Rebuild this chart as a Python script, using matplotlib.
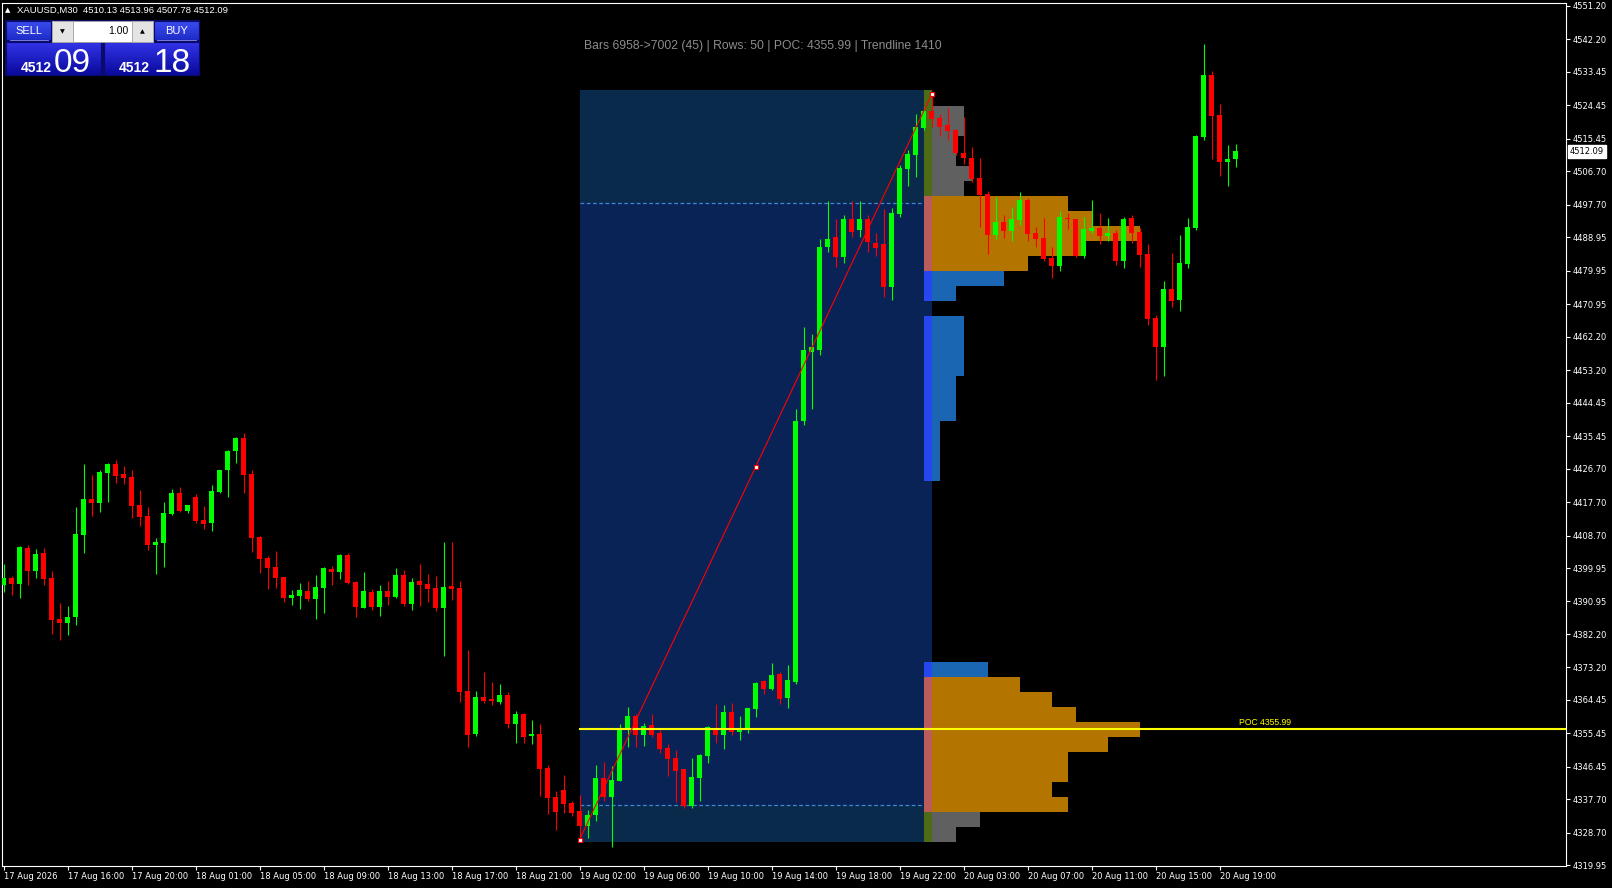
import numpy as np
import matplotlib
matplotlib.use('Agg')
import matplotlib.pyplot as plt
from matplotlib.patches import Rectangle
from matplotlib.transforms import blended_transform_factory, ScaledTranslation

plt.rcParams['font.family'] = ['DejaVu Sans']

# XAUUSD M30 candles, bar 0 = 17 Aug 12:00
opens = [4395.4, 4397.2, 4395.6, 4405.3, 4399.2, 4404.0, 4397.2, 4386.2, 4385.2, 4386.8,
         4408.9, 4418.5, 4417.4, 4425.6, 4427.9, 4425.2, 4424.4, 4416.9, 4413.9, 4406.1,
         4406.7, 4414.5, 4420.1, 4415.3, 4419.0, 4412.9, 4412.1, 4420.4, 4426.3, 4431.4,
         4434.9, 4425.2, 4408.3, 4402.6, 4400.2, 4397.5, 4392.0, 4392.4, 4393.8, 4391.6,
         4394.6, 4399.7, 4398.9, 4403.5, 4396.2, 4389.2, 4393.5, 4389.5, 4393.8, 4392.1,
         4398.1, 4390.3, 4396.5, 4395.6, 4394.6, 4389.2, 4395.1, 4394.6, 4366.9, 4355.3,
         4365.2, 4364.7, 4363.9, 4365.8, 4358.0, 4360.7, 4354.7, 4355.3, 4346.1, 4338.3,
         4340.2, 4336.7, 4334.6, 4330.6, 4333.5, 4343.5, 4338.4, 4342.7, 4356.5, 4360.1,
         4355.0, 4357.7, 4355.6, 4351.5, 4348.8, 4345.9, 4335.9, 4343.5, 4349.4, 4356.9,
         4355.0, 4361.2, 4355.8, 4356.6, 4362.0, 4369.5, 4367.4, 4371.4, 4365.0, 4369.4,
         4439.4, 4458.0, 4458.7, 4486.4, 4489.0, 4483.6, 4493.9, 4491.0, 4494.0, 4487.5,
         4487.1, 4475.7, 4495.3, 4507.2, 4511.1, 4518.4, 4522.9, 4521.1, 4519.2, 4517.8,
         4511.6, 4510.3, 4504.9, 4500.6, 4489.6, 4493.1, 4490.7, 4493.6, 4499.0, 4490.1,
         4488.8, 4483.4, 4481.2, 4494.1, 4493.9, 4483.9, 4490.6, 4491.5, 4489.3, 4490.1,
         4482.6, 4494.1, 4490.4, 4484.5, 4467.2, 4459.4, 4475.0, 4472.1, 4481.8, 4491.5,
         4515.9, 4532.6, 4521.9, 4509.2, 4510.13]
highs = [4401.0, 4397.8, 4405.8, 4406.1, 4405.0, 4405.3, 4399.1, 4390.5, 4389.7, 4416.4,
         4427.9, 4425.0, 4426.3, 4428.2, 4429.0, 4427.4, 4426.3, 4420.9, 4416.4, 4408.0,
         4417.7, 4421.2, 4421.7, 4416.9, 4419.8, 4416.6, 4422.3, 4426.3, 4431.7, 4435.2,
         4436.3, 4426.3, 4408.6, 4403.2, 4404.5, 4397.5, 4394.0, 4395.9, 4396.5, 4398.1,
         4400.2, 4400.5, 4403.7, 4404.0, 4396.5, 4398.9, 4394.3, 4395.4, 4396.5, 4400.0,
         4399.4, 4397.3, 4401.0, 4398.3, 4397.8, 4406.9, 4406.9, 4396.5, 4377.9, 4366.9,
         4372.0, 4369.3, 4368.7, 4366.6, 4361.5, 4360.9, 4359.1, 4358.0, 4346.9, 4339.9,
         4344.2, 4337.2, 4338.9, 4334.8, 4346.9, 4347.8, 4346.7, 4358.0, 4362.6, 4360.7,
         4358.2, 4360.7, 4356.6, 4352.6, 4351.0, 4345.9, 4348.8, 4349.9, 4357.4, 4363.4,
         4363.1, 4363.6, 4360.1, 4362.3, 4369.3, 4369.8, 4374.4, 4372.0, 4373.9, 4442.7,
         4464.8, 4463.0, 4488.6, 4498.6, 4494.0, 4495.0, 4498.8, 4498.6, 4495.0, 4490.0,
         4496.6, 4496.8, 4508.4, 4512.4, 4522.1, 4524.0, 4527.4, 4522.1, 4523.7, 4518.1,
         4521.3, 4513.2, 4510.3, 4501.4, 4499.8, 4494.9, 4497.1, 4501.1, 4499.5, 4491.7,
         4494.1, 4486.3, 4496.0, 4495.5, 4494.0, 4494.4, 4499.0, 4495.5, 4494.1, 4490.9,
         4494.4, 4495.0, 4491.5, 4487.2, 4468.0, 4477.2, 4484.7, 4489.6, 4494.2, 4516.5,
         4541.0, 4533.7, 4524.8, 4513.8, 4513.96]
lows = [4393.6, 4392.7, 4392.0, 4395.4, 4397.3, 4395.4, 4382.2, 4380.6, 4382.0, 4384.6,
        4404.1, 4414.0, 4415.1, 4417.8, 4422.9, 4422.5, 4413.4, 4411.2, 4404.8, 4398.3,
        4400.2, 4414.2, 4415.0, 4414.8, 4412.1, 4410.4, 4409.9, 4420.1, 4419.0, 4428.2,
        4420.1, 4404.3, 4398.6, 4394.3, 4394.5, 4390.8, 4390.0, 4388.9, 4391.1, 4386.2,
        4387.8, 4395.4, 4397.0, 4395.6, 4386.8, 4389.2, 4388.6, 4387.0, 4390.0, 4391.9,
        4389.7, 4388.6, 4389.7, 4390.8, 4388.4, 4376.3, 4391.3, 4363.9, 4351.8, 4354.8,
        4363.6, 4363.1, 4363.4, 4356.9, 4352.9, 4352.9, 4352.6, 4338.6, 4333.8, 4329.5,
        4334.0, 4333.2, 4326.9, 4327.4, 4331.9, 4337.3, 4325.0, 4342.7, 4351.9, 4351.9,
        4352.1, 4354.5, 4350.2, 4344.0, 4337.0, 4335.4, 4335.4, 4337.3, 4347.5, 4352.9,
        4351.2, 4355.0, 4353.7, 4355.6, 4359.9, 4366.0, 4367.0, 4363.4, 4362.3, 4368.8,
        4438.5, 4442.7, 4457.3, 4485.0, 4481.0, 4482.0, 4489.0, 4489.0, 4485.0, 4484.0,
        4473.0, 4472.1, 4494.4, 4502.8, 4505.2, 4517.8, 4518.6, 4516.2, 4515.1, 4511.1,
        4508.7, 4503.8, 4491.7, 4484.5, 4488.5, 4488.8, 4488.0, 4492.3, 4488.0, 4486.3,
        4482.5, 4478.0, 4479.9, 4491.2, 4483.6, 4483.4, 4490.1, 4487.2, 4488.0, 4481.5,
        4480.7, 4487.4, 4481.0, 4465.4, 4450.5, 4451.5, 4470.2, 4469.1, 4480.7, 4491.0,
        4515.1, 4510.0, 4505.4, 4502.8, 4507.78]
closes = [4397.3, 4395.6, 4405.6, 4399.2, 4403.7, 4397.1, 4386.0, 4385.2, 4386.8, 4409.1,
          4418.5, 4417.4, 4425.8, 4427.9, 4424.8, 4424.3, 4416.6, 4413.7, 4406.1, 4406.9,
          4414.7, 4420.1, 4415.3, 4416.9, 4412.6, 4411.8, 4420.7, 4426.3, 4431.4, 4434.9,
          4425.0, 4408.0, 4402.4, 4399.9, 4397.2, 4391.9, 4392.7, 4394.0, 4391.6, 4394.8,
          4399.9, 4398.9, 4403.5, 4395.9, 4389.5, 4393.8, 4389.5, 4393.8, 4392.1, 4398.1,
          4390.3, 4396.2, 4395.4, 4394.3, 4389.2, 4394.8, 4394.3, 4366.6, 4355.0, 4365.2,
          4364.2, 4364.2, 4365.8, 4358.0, 4360.7, 4354.5, 4355.3, 4345.9, 4338.1, 4334.3,
          4336.4, 4334.0, 4330.5, 4333.5, 4343.5, 4338.4, 4342.9, 4356.9, 4360.1, 4355.0,
          4357.4, 4355.0, 4351.3, 4348.6, 4345.3, 4335.9, 4343.7, 4349.6, 4357.2, 4355.0,
          4361.2, 4355.8, 4356.9, 4362.3, 4369.0, 4367.4, 4371.2, 4364.7, 4369.8, 4439.4,
          4458.7, 4459.5, 4486.4, 4488.5, 4483.6, 4493.9, 4490.5, 4493.9, 4487.8, 4486.1,
          4475.5, 4495.5, 4507.6, 4511.4, 4518.6, 4522.9, 4520.8, 4518.6, 4517.6, 4511.6,
          4510.3, 4504.6, 4500.3, 4489.6, 4493.1, 4490.7, 4493.9, 4499.0, 4489.8, 4488.5,
          4483.1, 4481.2, 4494.4, 4493.9, 4483.9, 4491.2, 4491.5, 4489.3, 4490.1, 4482.6,
          4493.9, 4490.1, 4484.2, 4467.0, 4459.4, 4475.0, 4471.8, 4482.0, 4491.7, 4516.2,
          4532.6, 4521.6, 4509.2, 4510.0, 4512.09]

tick_bars = list(range(0, 153, 8))
tick_labels = ['17 Aug 2026', '17 Aug 16:00', '17 Aug 20:00', '18 Aug 01:00', '18 Aug 05:00',
               '18 Aug 09:00', '18 Aug 13:00', '18 Aug 17:00', '18 Aug 21:00', '19 Aug 02:00',
               '19 Aug 06:00', '19 Aug 10:00', '19 Aug 14:00', '19 Aug 18:00', '19 Aug 22:00',
               '20 Aug 03:00', '20 Aug 07:00', '20 Aug 11:00', '20 Aug 15:00', '20 Aug 19:00']
price_ticks = [4551.20, 4542.20, 4533.45, 4524.45, 4515.45, 4506.70, 4497.70, 4488.95,
               4479.95, 4470.95, 4462.20, 4453.20, 4444.45, 4435.45, 4426.70, 4417.70,
               4408.70, 4399.95, 4390.95, 4382.20, 4373.20, 4364.45, 4355.45, 4346.45,
               4337.70, 4328.70, 4319.95]

# volume profile on bars 72..116, 50 rows from range_low to range_high
range_start, range_end = 72, 116
range_low, range_high = 4326.23, 4528.46
va_low, va_high = 4336.2, 4498.2
poc_row = 7
# row length in bars, bottom row first
profile_len = [3, 6, 17, 15, 17, 17, 22, 26, 18, 15,
               11, 7, 0, 0, 0, 0, 0, 0, 0, 0,
               0, 0, 0, 0, 1, 1, 1, 1, 3, 3,
               3, 4, 4, 4, 4, 0, 3, 9, 12, 19,
               26, 20, 17, 4, 5, 3, 3, 4, 4, 0]
# g = outside value area, o = high volume, b = low volume, n = empty
profile_kind = ['g', 'g', 'o', 'o', 'o', 'o', 'o', 'o', 'o', 'o',
                'o', 'b', 'n', 'n', 'n', 'n', 'n', 'n', 'n', 'n',
                'n', 'n', 'n', 'n', 'b', 'b', 'b', 'b', 'b', 'b',
                'b', 'b', 'b', 'b', 'b', 'n', 'b', 'b', 'o', 'o',
                'o', 'o', 'o', 'g', 'g', 'g', 'g', 'g', 'g', 'g']
bar_colour = {'g': '#606060', 'o': '#b37400', 'b': '#1a66b3'}
col_colour = {'g': '#4e6b17', 'o': '#bb5c5c', 'b': '#2646f0'}

trend_start = (72, 4326.9)
trend_end = (116, 4527.4)

title = 'Bars 6958->7002 (45) | Rows: 50 | POC: 4355.99 | Trendline 1410'
poc_label = 'POC 4355.99'

W, H = 1612, 888
fig = plt.figure(figsize=(W/100, H/100), dpi=100, facecolor='black')
ax = fig.add_axes([2/W, 22/H, 1564/W, 863/H], facecolor='black')
ax.set_xlim(-0.2, 195.3)
ax.set_ylim(4319.77, 4552.0)

# range box
ax.add_patch(Rectangle((range_start, range_low), range_end - range_start, range_high - range_low,
                       facecolor='#0a2a4c', edgecolor='none', zorder=1))
ax.add_patch(Rectangle((range_start, va_low), range_end - range_start, va_high - va_low,
                       facecolor='#0a2356', edgecolor='none', zorder=1.1))
for lvl in (va_low, va_high):
    ax.plot([range_start, range_end], [lvl, lvl], color='#3d86d8', lw=0.9,
            ls=(0, (3, 2)), zorder=1.5)

# profile rows
row_h = (range_high - range_low)/len(profile_len)
for k, (n, kind) in enumerate(zip(profile_len, profile_kind)):
    if kind == 'n':
        continue
    y0 = range_low + k*row_h
    if n > 0:
        ax.add_patch(Rectangle((range_end, y0), n, row_h, facecolor=bar_colour[kind],
                               edgecolor='none', zorder=2))
    ax.add_patch(Rectangle((range_end - 1, y0), 1, row_h, facecolor=col_colour[kind],
                           edgecolor='none', zorder=2))

# candles
x = np.arange(len(opens))
o = np.array(opens)
c = np.array(closes)
colours = np.where(c >= o, '#00ff00', '#ff0000')
ax.vlines(x, lows, highs, colors=colours, lw=0.8, zorder=4)
body = np.maximum(np.abs(c - o), 0.35)
ax.bar(x, body, bottom=np.minimum(o, c), width=0.6, color=colours, linewidth=0, zorder=4)

# POC line
poc = range_low + (poc_row + 0.5)*row_h
ax.plot([range_start, 195.3], [poc, poc], color='#ffff00', lw=1.5, zorder=5)
ax.text(154.4, poc + 0.6, poc_label, color='#ffff00', fontsize=6.2, family='Liberation Sans',
        ha='left', va='bottom', zorder=5)

# trendline
mid = ((trend_start[0] + trend_end[0])/2, (trend_start[1] + trend_end[1])/2)
ax.plot([trend_start[0], trend_end[0]], [trend_start[1], trend_end[1]], color='#ff0000',
        lw=0.8, zorder=6)
ax.plot([trend_start[0], mid[0], trend_end[0]], [trend_start[1], mid[1], trend_end[1]],
        ls='none', marker='s', ms=3.5, mfc='white', mec='#ff0000', mew=0.8, zorder=7)

ax.text(94.9, 4540.4, title, color='#8c8c8c', fontsize=8.7, family='Liberation Sans',
        ha='center', va='center', zorder=6)

# axes look
for s in ax.spines.values():
    s.set_color('white')
    s.set_linewidth(0.8)
ax.yaxis.tick_right()
ax.set_yticks(price_ticks)
ax.set_yticklabels([f'{p:.2f}' for p in price_ticks])
ax.set_xticks(tick_bars)
ax.set_xticklabels(tick_labels, ha='left')
ax.tick_params(colors='white', labelsize=6, length=3, width=0.8, pad=1.5)
offset = ScaledTranslation(0.6/72, 0, fig.dpi_scale_trans)
for lab in ax.get_xticklabels():
    lab.set_transform(lab.get_transform() + offset)

# current price label
tr = blended_transform_factory(ax.transAxes, ax.transData)
ax.text(1.0025, closes[-1], f'{closes[-1]:.2f}', transform=tr, fontsize=6, color='black',
        ha='left', va='center', zorder=8,
        bbox=dict(boxstyle='square,pad=0.25', fc='white', ec='white'))

# header and trade panel, in figure pixels
ui = fig.add_axes([0, 0, 1, 1], facecolor='none')
ui.set_xlim(0, W)
ui.set_ylim(H, 0)
ui.axis('off')


def grad_box(x0, y0, x1, y1, top, bottom):
    t = np.array(matplotlib.colors.to_rgb(top))
    b = np.array(matplotlib.colors.to_rgb(bottom))
    f = np.linspace(0, 1, 32)[:, None]
    img = (t*(1 - f) + b*f)[:, None, :]
    ui.imshow(img, extent=(x0, x1, y1, y0), aspect='auto', interpolation='bilinear', zorder=2)
    ui.add_patch(Rectangle((x0, y0), x1 - x0, y1 - y0, fill=False, ec='#0a0a70', lw=0.8,
                           zorder=3))


ui.text(8, 10, '\u25b2', color='white', fontsize=5, ha='center', va='center')
ui.text(17, 10, 'XAUUSD,M30  4510.13 4513.96 4507.78 4512.09', color='white',
        fontsize=6.8, ha='left', va='center', family='Liberation Sans')

ui.add_patch(Rectangle((5, 20), 195, 56, facecolor='#0c0c6a', edgecolor='none', zorder=1))
grad_box(6, 21, 51, 40, '#3b4cf0', '#1e2cc8')
grad_box(154, 21, 199, 40, '#3b4cf0', '#1e2cc8')
grad_box(6, 42, 101, 75, '#3234e8', '#0a0a9c')
grad_box(104, 42, 199, 75, '#3234e8', '#0a0a9c')
ui.add_patch(Rectangle((52, 21), 101, 21, facecolor='white', edgecolor='#a0a0a0', lw=0.6, zorder=3))
ui.add_patch(Rectangle((52, 21), 21, 21, facecolor='#e4e4e4', edgecolor='#a0a0a0', lw=0.6, zorder=3))
ui.add_patch(Rectangle((132, 21), 21, 21, facecolor='#e4e4e4', edgecolor='#a0a0a0', lw=0.6, zorder=3))
ui.text(62.5, 31.5, '\u25bc', fontsize=4.5, ha='center', va='center', color='black', zorder=4)
ui.text(142.5, 31.5, '\u25b2', fontsize=4.5, ha='center', va='center', color='black', zorder=4)
ui.text(128, 31.5, '1.00', fontsize=7.5, ha='right', va='center', color='black', zorder=4,
        family='Liberation Sans')
ui.text(28.5, 30.5, 'SELL', fontsize=8, ha='center', va='center', color='white', zorder=4,
        family='Liberation Sans')
ui.text(176.5, 30.5, 'BUY', fontsize=8, ha='center', va='center', color='white', zorder=4,
        family='Liberation Sans')
ui.plot([10, 48], [40.5, 40.5], color='#8a90e8', lw=0.6, zorder=4)
ui.plot([157, 196], [40.5, 40.5], color='#8a90e8', lw=0.6, zorder=4)
ui.text(21, 72, '4512', fontsize=10, fontweight='bold', color='white', ha='left',
        va='baseline', zorder=4, family='Liberation Sans')
ui.text(54, 72, '09', fontsize=24, color='white', ha='left', va='baseline', zorder=4,
        family='Liberation Sans')
ui.text(119, 72, '4512', fontsize=10, fontweight='bold', color='white', ha='left',
        va='baseline', zorder=4, family='Liberation Sans')
ui.text(153, 72, '18', fontsize=24, color='white', ha='left', va='baseline', zorder=4,
        family='Liberation Sans')

fig.savefig('out.png', dpi=100, facecolor='black')
